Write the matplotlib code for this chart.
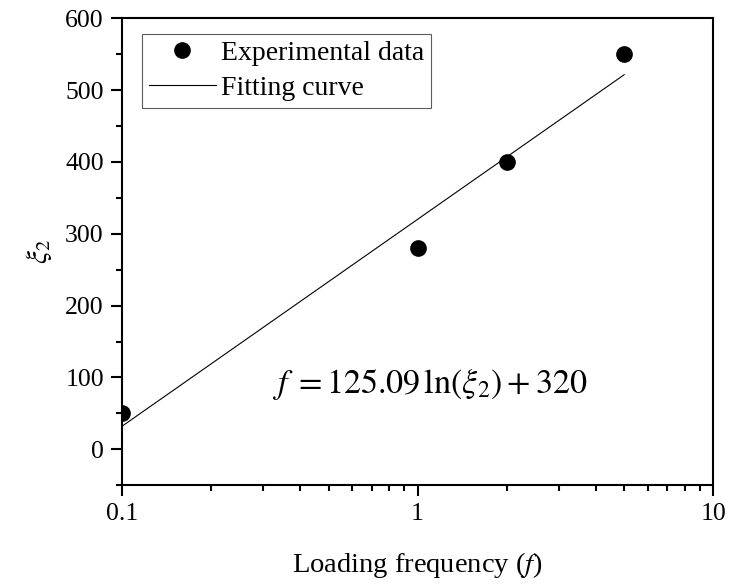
import matplotlib
matplotlib.use('Agg')
import matplotlib.pyplot as plt
import numpy as np
from matplotlib.ticker import FixedLocator, NullFormatter, LogLocator

# Data
freq = [0.1, 1, 2, 5]
xi2 = [50, 280, 400, 550]
fit_a = 125.09
fit_b = 320

plt.rcParams['font.family'] = ['Liberation Serif', 'DejaVu Serif']
plt.rcParams['mathtext.fontset'] = 'stix'

fig = plt.figure(figsize=(7.3, 5.86), dpi=100)
ax = fig.add_axes([0.167, 0.172, 0.810, 0.797])

x_fit = np.linspace(0.1, 5, 200)
y_fit = fit_a * np.log(x_fit) + fit_b

ax.plot(freq, xi2, 'o', color='black', markersize=11, label='Experimental data')
ax.plot(x_fit, y_fit, '-', color='black', linewidth=0.8, label='Fitting curve')

ax.set_xscale('log')
ax.set_xlim(0.1, 10)
ax.set_ylim(-50, 600)
ax.set_xticks([0.1, 1, 10])
ax.set_xticklabels(['0.1', '1', '10'])
ax.xaxis.set_minor_locator(LogLocator(base=10, subs=np.arange(2, 10)))
ax.xaxis.set_minor_formatter(NullFormatter())
ax.set_yticks([0, 100, 200, 300, 400, 500, 600])
ax.yaxis.set_minor_locator(FixedLocator([-50, 50, 150, 250, 350, 450, 550]))

for s in ax.spines.values():
    s.set_linewidth(1.5)
ax.tick_params(which='major', direction='out', length=8, width=1.5, labelsize=18.5,
               top=False, right=False, pad=5)
ax.tick_params(which='minor', direction='out', length=4, width=1.5,
               top=False, right=False)

ax.set_xlabel('Loading frequency ($\\mathit{f}$)', fontsize=20.5, labelpad=18)
ax.set_ylabel('$\\xi_2$', fontsize=21, labelpad=8)

ax.text(0.254, 0.215, r'$f\;=125.09\,\mathrm{ln}\left(\xi_2\right)+320$',
        transform=ax.transAxes, fontsize=24.5, ha='left', va='center')

leg = ax.legend(loc='upper left', bbox_to_anchor=(0.02, 0.985), fontsize=20,
                frameon=True, fancybox=False, handlelength=2.4, handletextpad=0.2,
                borderpad=0.25, labelspacing=0.35, borderaxespad=0.3)
leg.get_frame().set_edgecolor('#333333')
leg.get_frame().set_linewidth(0.8)

fig.savefig('out.png', dpi=100)
